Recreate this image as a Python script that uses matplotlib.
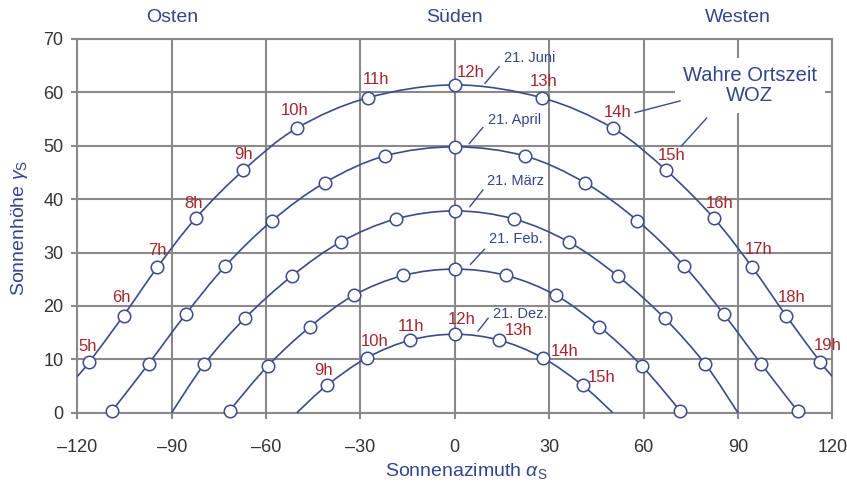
import numpy as np
import matplotlib
matplotlib.use("Agg")
import matplotlib.pyplot as plt
import matplotlib.transforms as mtransforms
from matplotlib.path import Path
from matplotlib.patches import PathPatch

plt.rcParams['font.family'] = ['Liberation Sans', 'DejaVu Sans']
plt.rcParams['mathtext.fontset'] = 'custom'
plt.rcParams['mathtext.rm'] = 'Liberation Sans'
plt.rcParams['mathtext.it'] = 'Liberation Sans:italic'

# Achsen
x_ticks = [-120, -90, -60, -30, 0, 30, 60, 90, 120]
x_ticklabels = ['–120', '–90', '–60', '–30', '0', '30', '60', '90', '120']
y_ticks = [0, 10, 20, 30, 40, 50, 60, 70]
directions = ['Osten', 'Süden', 'Westen']
direction_az = [-90, 0, 90]

# 21. Juni (5h ... 19h)
juni_az = [-116.2, -105.3, -94.6, -82.4, -67.2, -50.2, -27.6, 0.0,
           27.6, 50.2, 67.2, 82.4, 94.6, 105.3, 116.2]
juni_alt = [9.5, 18.2, 27.2, 36.4, 45.4, 53.3, 59.0, 61.4,
            59.0, 53.3, 45.4, 36.4, 27.2, 18.2, 9.5]
juni_hours = ['5h', '6h', '7h', '8h', '9h', '10h', '11h', '12h',
              '13h', '14h', '15h', '16h', '17h', '18h', '19h']
juni_edge_alt = 6.8  # Kurve läuft bis zum Rand bei ±120°

# 21. April (5h ... 19h)
april_az = [-109.0, -97.3, -85.6, -72.9, -58.0, -41.3, -22.2, 0.0,
            22.2, 41.3, 58.0, 72.9, 85.6, 97.3, 109.0]
april_alt = [0.3, 9.2, 18.4, 27.5, 36.0, 43.1, 48.1, 49.8,
             48.1, 43.1, 36.0, 27.5, 18.4, 9.2, 0.3]

# 21. März (7h ... 17h), Auf-/Untergang bei ±90°
maerz_az = [-79.6, -66.7, -51.8, -36.2, -18.7, 0.0, 18.7, 36.2, 51.8, 66.7, 79.6]
maerz_alt = [9.1, 17.7, 25.6, 32.0, 36.3, 37.8, 36.3, 32.0, 25.6, 17.7, 9.1]
maerz_rise_az = 90.0

# 21. Feb. (7h ... 17h)
feb_az = [-71.6, -59.4, -46.0, -32.1, -16.4, 0.0, 16.4, 32.1, 46.0, 59.4, 71.6]
feb_alt = [0.4, 8.8, 16.1, 22.0, 25.7, 26.9, 25.7, 22.0, 16.1, 8.8, 0.4]

# 21. Dez. (9h ... 15h), Auf-/Untergang bei ca. ±50°
dez_az = [-40.7, -27.9, -14.1, 0.0, 14.1, 27.9, 40.7]
dez_alt = [5.1, 10.3, 13.6, 14.7, 13.6, 10.3, 5.1]
dez_hours = ['9h', '10h', '11h', '12h', '13h', '14h', '15h']
dez_rise_az = 50.2

date_names = ['21. Juni', '21. April', '21. März', '21. Feb.', '21. Dez.']

# Farben
blue = '#3b4b8c'
text_blue = '#34458a'
red = '#a3262e'
grid_gray = '#8a8a8a'

# Versatz der Stundenbeschriftung in Pixeln (dx, dy nach unten)
juni_off = [(-2, -15), (-2, -18), (0, -17), (-2, -15), (0, -16), (-2, -18), (8, -18), (16, -12),
            (2, -16), (5, -16), (5, -15), (6, -15), (6, -18), (6, -18), (7, -16)]
dez_off = [(-3, -15), (8, -16), (1, -14), (7, -15), (19, -10), (22, -6), (19, -8)]
PX = 0.72


def smooth_path(xs, ys):
    # Catmull-Rom durch die Punkte, als Bezier-Pfad
    p = np.column_stack([xs, ys]).astype(float)
    ext = np.vstack([p[0], p, p[-1]])
    verts = [p[0]]
    codes = [Path.MOVETO]
    for i in range(len(p) - 1):
        p0, p1, p2, p3 = ext[i], ext[i + 1], ext[i + 2], ext[i + 3]
        verts += [p1 + (p2 - p0) / 6, p2 - (p3 - p1) / 6, p2]
        codes += [Path.CURVE4] * 3
    return Path(verts, codes)


fig = plt.figure(figsize=(8.47, 4.86), dpi=100)
ax = fig.add_axes([0.0913, 0.1508, 0.9826 - 0.0913, 0.9198 - 0.1508])

curves = [
    ([-120.0] + juni_az + [120.0], [juni_edge_alt] + juni_alt + [juni_edge_alt], juni_az, juni_alt),
    (april_az, april_alt, april_az, april_alt),
    ([-maerz_rise_az] + maerz_az + [maerz_rise_az], [0.0] + maerz_alt + [0.0], maerz_az, maerz_alt),
    (feb_az, feb_alt, feb_az, feb_alt),
    ([-dez_rise_az] + dez_az + [dez_rise_az], [0.0] + dez_alt + [0.0], dez_az, dez_alt),
]
for lx, ly, mx, my in curves:
    ax.add_patch(PathPatch(smooth_path(lx, ly), fc='none', ec=blue, lw=1.2, zorder=3))
    ax.plot(mx, my, 'o', ms=9, mfc='white', mec=blue, mew=1.1, zorder=4, clip_on=False)

for az, alt, h, (dx, dy) in zip(juni_az, juni_alt, juni_hours, juni_off):
    ax.annotate(h, (az, alt), xytext=(dx * PX, -dy * PX), textcoords='offset points',
                ha='center', va='center', color=red, fontsize=12, zorder=6)
for az, alt, h, (dx, dy) in zip(dez_az, dez_alt, dez_hours, dez_off):
    ax.annotate(h, (az, alt), xytext=(dx * PX, -dy * PX), textcoords='offset points',
                ha='center', va='center', color=red, fontsize=12, zorder=6)

# Datumsbeschriftung mit Hinweislinie
date_pos = [(23.7, 66.4), (18.9, 54.9), (19.4, 43.4), (19.4, 32.5), (20.7, 18.4)]
date_leader = [((9.6, 61.7), (14.1, 64.8)), ((4.6, 50.4), (8.9, 53.4)),
               ((4.8, 38.6), (8.9, 41.7)), ((5.0, 27.8), (9.4, 30.6)),
               ((7.4, 15.3), (10.6, 17.7))]
for name, (tx, ty), (a, b) in zip(date_names, date_pos, date_leader):
    ax.text(tx, ty, name, ha='center', va='center', color=text_blue, fontsize=10.5, zorder=6)
    ax.plot([a[0], b[0]], [a[1], b[1]], color=blue, lw=1.0, zorder=5)

# Wahre Ortszeit
ax.text(93.8, 61.3, 'Wahre Ortszeit\nWOZ', ha='center', va='center', color=text_blue,
        fontsize=14.5, linespacing=1.05, zorder=5,
        bbox=dict(boxstyle='square,pad=0.4', fc='white', ec='none'))
ax.plot([57.3, 71.6], [56.2, 58.4], color=blue, lw=1.0, zorder=5)
ax.plot([72.1, 80.1], [50.0, 55.2], color=blue, lw=1.0, zorder=5)

ax.set_xlim(-120, 120)
ax.set_ylim(0, 70)
ax.set_xticks(x_ticks)
ax.set_xticklabels(x_ticklabels)
ax.set_yticks(y_ticks)
ax.grid(True, color=grid_gray, lw=1.5)
ax.set_axisbelow(True)
for s in ax.spines.values():
    s.set_color(grid_gray)
    s.set_linewidth(1.5)
ax.tick_params(direction='out', length=4, width=1.5, color=grid_gray,
               labelsize=13, labelcolor='#333333')
ax.tick_params(axis='x', pad=15)
ax.tick_params(axis='y', pad=6)

trans = mtransforms.blended_transform_factory(ax.transData, fig.transFigure)
for name, az in zip(directions, direction_az):
    ax.text(az, 1 - 18 / 486, name, transform=trans, ha='center', va='center',
            color=text_blue, fontsize=14)

fig.text(466 / 847, 1 - 471 / 486, r'Sonnenazimuth $\alpha_\mathrm{S}$', ha='center', va='center',
         color=text_blue, fontsize=14)
fig.text(20 / 847, 1 - 228 / 486, r'Sonnenhöhe $\gamma_\mathrm{S}$', rotation=90,
         ha='center', va='center', color=text_blue, fontsize=14)

fig.savefig('out.png', dpi=100)
